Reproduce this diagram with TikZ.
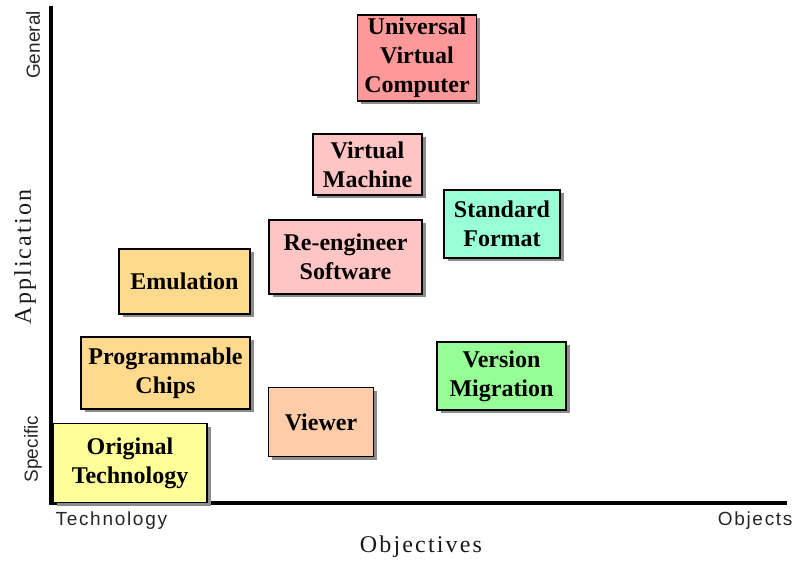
\documentclass[tikz,border=0pt]{standalone}
\usepackage{fontspec}
\setmainfont{Liberation Serif}
\newfontfamily\axisfont{Liberation Sans}
\newfontfamily\axiswidefont[LetterSpace=9]{Liberation Sans}
\newfontfamily\titlefont[LetterSpace=9]{Liberation Serif}
\usetikzlibrary{shadows}

\definecolor{uvcred}{RGB}{255,153,153}
\definecolor{vmpink}{RGB}{255,196,196}
\definecolor{sfaqua}{RGB}{153,255,214}
\definecolor{emuorange}{RGB}{255,218,140}
\definecolor{viewpeach}{RGB}{255,204,170}
\definecolor{migreen}{RGB}{150,255,150}
\definecolor{otyellow}{RGB}{255,255,153}

\tikzset{
  idea/.style={draw=black,line width=1.2pt,align=center,inner sep=0pt,
    font=\fontsize{24}{29}\selectfont\bfseries,
    drop shadow={shadow xshift=3.5pt,shadow yshift=-3pt,fill=black!45,opacity=1}},
  axislabel/.style={font=\axisfont\fontsize{19}{21}\selectfont,text=black!85},
  axiswide/.style={font=\axiswidefont\fontsize{19}{21}\selectfont,text=black!85},
  axistitle/.style={font=\titlefont\fontsize{24}{26}\selectfont,text=black!90},
}

\begin{document}
\begin{tikzpicture}[x=1pt,y=-1pt]
        \useasboundingbox (0,0) rectangle (794,568);
        % axes
        \coordinate (origin) at (51,503);
        \coordinate (ytop) at (51,6);
        \coordinate (xend) at (787,503);
        \draw[line width=4.5pt] (ytop) -- (origin) -- (xend);
        \node[axislabel,rotate=90] (general) at (33,45) {General};
        \node[axislabel,rotate=90] (specific) at (33,449) {Specific};
        \node[axistitle,rotate=90] (application) at (25,257) {Application};
        \node[axiswide,anchor=west] (technology) at (52,521) {Technology};
        \node[axiswide,anchor=east] (objects) at (796,521) {Objects};
        \node[axistitle] (objectives) at (421,547) {Objectives};
        % strategies
        \node[idea,fill=uvcred,minimum width=119pt,minimum height=86pt] (uvc) at (417,58) {Universal\\Virtual\\Computer};
        \node[idea,fill=vmpink,minimum width=109pt,minimum height=61pt] (vm) at (367.5,164.5) {Virtual\\Machine};
        \node[idea,fill=sfaqua,minimum width=116pt,minimum height=68pt] (sf) at (502,224) {Standard\\Format};
        \node[idea,fill=vmpink,minimum width=153pt,minimum height=74pt] (reeng) at (345.5,257) {Re-engineer\\Software};
        \node[idea,fill=emuorange,minimum width=131pt,minimum height=65pt] (emu) at (184.5,281.5) {Emulation};
        \node[idea,fill=emuorange,minimum width=169pt,minimum height=72pt] (chips) at (165.5,373) {Programmable\\Chips};
        \node[idea,fill=migreen,minimum width=129pt,minimum height=68pt] (migr) at (501.5,376) {Version\\Migration};
        \node[idea,fill=viewpeach,minimum width=105pt,minimum height=69pt] (viewer) at (321,422) {Viewer};
        \node[idea,fill=otyellow,minimum width=154pt,minimum height=79pt] (orig) at (130,463) {Original\\Technology};
      \end{tikzpicture}
\end{document}
